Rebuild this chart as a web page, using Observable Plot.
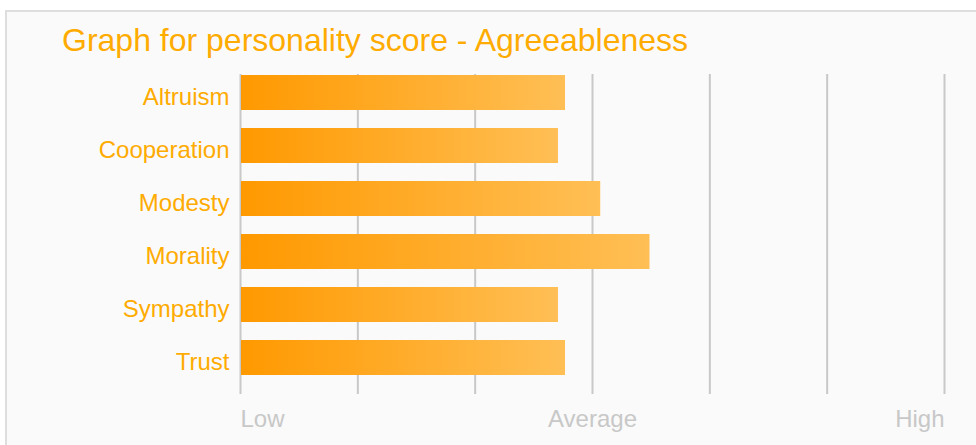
<!DOCTYPE html>
<html>
<head>
<meta charset="utf-8">
<script src="https://cdn.jsdelivr.net/npm/d3@7"></script>
<script src="https://cdn.jsdelivr.net/npm/@observablehq/plot@0.6"></script>
<style>
  html, body { margin: 0; padding: 0; background: #ffffff; width: 976px; height: 445px; overflow: hidden; }
  body { position: relative; font-family: "Liberation Sans", Arial, sans-serif; }
  #card { position: absolute; left: 5px; top: 10px; width: 1100px; height: 600px; border: 2px solid #dedede; background: #fafafa; }
  #title { position: absolute; left: 62px; top: 24px; font-size: 32px; line-height: 32px; color: #ffab00; white-space: nowrap; }
  #chart { position: absolute; left: 0; top: 0; }
</style>
</head>
<body>
<div id="card"></div>
<div id="chart"></div>
<div id="title">Graph for personality score - Agreeableness</div>
<script>
const categories = ["Altruism", "Cooperation", "Modesty", "Morality", "Sympathy", "Trust"];
const scores = [2.77, 2.71, 3.07, 3.49, 2.71, 2.77];
const gridTicks = [0, 1, 2, 3, 4, 5, 6];
const levelTicks = [0, 3, 6];
const levelLabels = ["Low", "Average", "High"];

const data = categories.map((name, i) => ({name, value: scores[i]}));
const levels = levelTicks.map((v, i) => ({v, label: levelLabels[i]}));

const gradientDefs = () => {
  const defs = d3.create("svg:defs");
  const g = defs.append("linearGradient")
    .attr("id", "barGrad")
    .attr("x1", "0").attr("x2", "1").attr("y1", "0").attr("y2", "0");
  g.append("stop").attr("offset", "0%").attr("stop-color", "#ff9900");
  g.append("stop").attr("offset", "100%").attr("stop-color", "#ffbf55");
  return defs.node();
};

const levelText = (i, anchor) => Plot.text([levels[i]], {
  x: "v", text: "label", frameAnchor: "bottom", lineAnchor: "middle",
  dy: 25, textAnchor: anchor, fill: "#c8c8c8", fontSize: 24
});

const plot = Plot.plot({
  width: 976,
  height: 445,
  marginLeft: 240,
  marginRight: 32,
  marginTop: 74,
  marginBottom: 51,
  style: { background: "transparent", fontFamily: "'Liberation Sans', Arial, sans-serif", overflow: "visible" },
  x: { domain: [0, 6], axis: null },
  y: { domain: categories, axis: null, label: null, paddingInner: 0.345, paddingOuter: 0.169, align: 0.055 },
  marks: [
    gradientDefs,
    Plot.ruleX(gridTicks, { x: d => d, stroke: "#c8c8c8", strokeWidth: 2 }),
    Plot.barX(data, { x: "value", y: "name", fill: "url(#barGrad)", insetLeft: 1 }),
    Plot.axisY({ tickSize: 0, tickPadding: 11, fontSize: 24, fill: "#ffab00", dy: 4, label: null }),
    levelText(0, "start"),
    levelText(1, "middle"),
    levelText(2, "end")
  ]
});
document.getElementById("chart").appendChild(plot);
</script>
</body>
</html>
